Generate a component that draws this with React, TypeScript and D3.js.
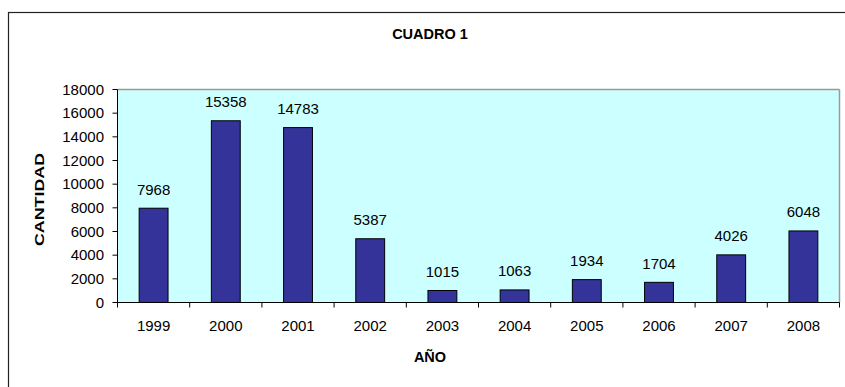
import React from "react";
import * as d3 from "d3";

const years = ["1999", "2000", "2001", "2002", "2003", "2004", "2005", "2006", "2007", "2008"];
const quantities = [7968, 15358, 14783, 5387, 1015, 1063, 1934, 1704, 4026, 6048];
const yTicks = [0, 2000, 4000, 6000, 8000, 10000, 12000, 14000, 16000, 18000];
const chartTitle = "CUADRO 1";
const yTitle = "CANTIDAD";
const xTitle = "AÑO";

const W = 845;
const H = 387;
const plot = { left: 117.5, right: 839.5, top: 89.5, bottom: 302.5 };
const FONT = "'Liberation Sans', Arial, sans-serif";

export default function App() {
  const x = d3
    .scaleBand<string>()
    .domain(years)
    .range([plot.left, plot.right])
    .paddingInner(0.6)
    .paddingOuter(0.3);
  const band = (plot.right - plot.left) / years.length;
  const y = d3.scaleLinear().domain([0, 18000]).range([plot.bottom, plot.top]);

  return (
    <svg
      width={W}
      height={H}
      style={{ position: "absolute", left: 0, top: 0, background: "#fff" }}
      fontFamily={FONT}
    >
      <rect x={8.5} y={12.5} width={900} height={500} fill="#fff" stroke="#222" strokeWidth={1.2} />
      <text x={430} y={39} textAnchor="middle" fontSize={14.5} fontWeight="bold" fill="#000">
        {chartTitle}
      </text>
      <rect
        x={plot.left}
        y={plot.top}
        width={plot.right - plot.left}
        height={plot.bottom - plot.top}
        fill="#CCFFFF"
      />
      <line x1={plot.left} x2={plot.right} y1={plot.top} y2={plot.top} stroke="#999" strokeWidth={1.5} />
      <line x1={plot.right} x2={plot.right} y1={plot.top} y2={plot.bottom} stroke="#999" strokeWidth={1.5} />
      {years.map((yr, i) => {
        const v = quantities[i];
        const bx = x(yr)!;
        const bw = x.bandwidth();
        return (
          <g key={yr}>
            <rect x={bx} y={y(v)} width={bw} height={plot.bottom - y(v)} fill="#333399" stroke="#000" strokeWidth={1} />
            <text x={bx + bw / 2} y={y(v) - 13.5} textAnchor="middle" fontSize={15} fill="#000">
              {v}
            </text>
            <text x={plot.left + band * (i + 0.5)} y={331} textAnchor="middle" fontSize={15} fill="#000">
              {yr}
            </text>
          </g>
        );
      })}
      <line x1={plot.left} x2={plot.left} y1={plot.top} y2={plot.bottom} stroke="#000" strokeWidth={1} />
      <line x1={plot.left} x2={plot.right} y1={plot.bottom} y2={plot.bottom} stroke="#000" strokeWidth={1} />
      {yTicks.map((t) => (
        <g key={t}>
          <line x1={plot.left - 5} x2={plot.left} y1={y(t)} y2={y(t)} stroke="#000" strokeWidth={1} />
          <text x={104} y={y(t)} dy="0.35em" textAnchor="end" fontSize={15} fill="#000">
            {t}
          </text>
        </g>
      ))}
      {d3.range(years.length + 1).map((i) => (
        <line
          key={i}
          x1={plot.left + band * i}
          x2={plot.left + band * i}
          y1={plot.bottom}
          y2={plot.bottom + 5}
          stroke="#000"
          strokeWidth={1}
        />
      ))}
      <text
        transform="translate(44,199.5) rotate(-90)"
        textAnchor="middle"
        fontSize={13.5}
        fontWeight="bold"
        fill="#000"
        textLength={93}
        lengthAdjust="spacingAndGlyphs"
      >
        {yTitle}
      </text>
      <text x={430} y={362} textAnchor="middle" fontSize={14.5} fontWeight="bold" fill="#000">
        {xTitle}
      </text>
    </svg>
  );
}
